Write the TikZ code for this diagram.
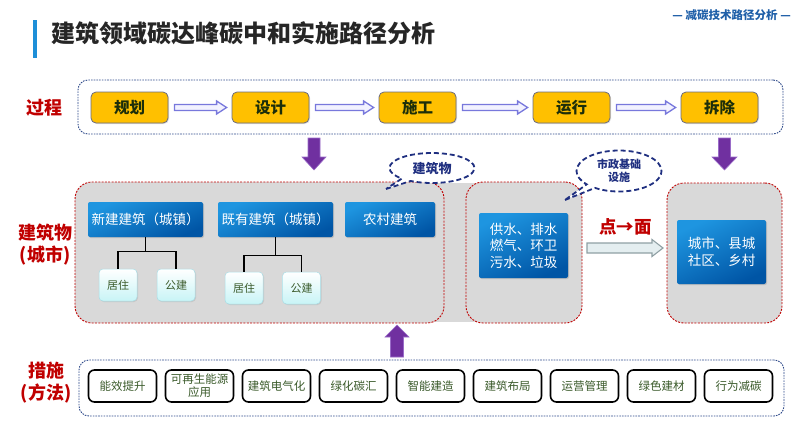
\documentclass[tikz,border=0pt]{standalone}
\usepackage{fontspec}
\setmainfont{Noto Sans CJK SC}
\usetikzlibrary{shapes.callouts,shadows,calc,arrows.meta}
\definecolor{redtxt}{HTML}{C00000}
\definecolor{navyd}{HTML}{2E4A8A}
\definecolor{callnavy}{HTML}{1F2F80}
\definecolor{gold}{HTML}{FFC000}
\definecolor{goldline}{HTML}{6B6B80}
\definecolor{darkolive}{HTML}{1C2E0A}
\definecolor{grayfill}{HTML}{D9D9D9}
\definecolor{blueA}{HTML}{1E95E0}
\definecolor{blueB}{HTML}{0055A5}
\definecolor{lightcy}{HTML}{C8F4F6}
\definecolor{lightcyline}{HTML}{A8DDE6}
\definecolor{greentxt}{HTML}{3A5A2A}
\definecolor{purp}{HTML}{7030A0}
\definecolor{purpline}{HTML}{9A6CC8}
\definecolor{lav}{HTML}{7878DC}
\definecolor{lavfill}{HTML}{F2F2FF}
\definecolor{hdrblue}{HTML}{1F5FA8}
\definecolor{barblue}{HTML}{1E8FD8}
\definecolor{arrgray}{HTML}{8FA0A4}
\definecolor{arrfill}{HTML}{E4EEF0}
\tikzset{
  proclabel/.style={text=redtxt, font=\fontsize{18}{22}\selectfont\bfseries, align=center, inner sep=0pt},
  procbox/.style={draw=navyd, line width=0.9pt, dash pattern=on 1.6pt off 1.1pt, rounded corners=10pt, inner sep=0pt},
  stagebox/.style={fill=gold, draw=goldline, line width=0.8pt, rounded corners=5pt, minimum width=77pt, minimum height=31pt, inner sep=0pt, text=darkolive, font=\fontsize{15.5}{18}\selectfont\bfseries, drop shadow={opacity=0.25, shadow xshift=1pt, shadow yshift=-1pt}},
  hollowarr/.style={fill=lavfill, draw=lav, line width=1.3pt, line join=miter},
  graybox/.style={fill=grayfill, draw=redtxt, line width=0.9pt, dash pattern=on 2pt off 1.3pt, rounded corners=17pt, inner sep=0pt},
  bluebox/.style={top color=blueA, bottom color=blueB, shading angle=25, draw=none, rounded corners=2pt, inner sep=0pt, text=white, align=center, font=\fontsize{13.5}{16.5}\selectfont, drop shadow={opacity=0.3, shadow xshift=1pt, shadow yshift=-1pt}},
  leafbox/.style={top color=white, bottom color=lightcy, draw=lightcyline, line width=0.5pt, rounded corners=4pt, minimum width=38pt, minimum height=32pt, inner sep=0pt, text=greentxt, font=\fontsize{11}{13}\selectfont, drop shadow={opacity=0.2, shadow xshift=1pt, shadow yshift=-1pt}},
  tree/.style={draw=black, line width=1.3pt},
  bubble/.style={ellipse callout, draw=callnavy, fill=white, line width=1.8pt, dash pattern=on 5pt off 3pt, inner sep=0pt, text=callnavy, align=center},
  measbox/.style={fill=white, draw=black, line width=1.6pt, rounded corners=6pt, minimum width=68pt, minimum height=32pt, inner sep=0pt, text=greentxt, align=center, font=\fontsize{11.5}{13}\selectfont},
  blockarrow/.style={fill=purp, draw=purpline, line width=0.6pt},
}
\begin{document}
\begin{tikzpicture}[x=1pt,y=-1pt]
\useasboundingbox (0,0) rectangle (800,434);
% header
\fill[barblue] (32.5,20) rectangle (36.5,58);
\node[anchor=west, inner sep=0pt, font=\fontsize{24}{26}\selectfont\bfseries, text=black!85] (title) at (51,33) {建筑领域碳达峰碳中和实施路径分析};
\node[anchor=east, inner sep=0pt, font=\fontsize{11.5}{13}\selectfont\bfseries, text=hdrblue] (hdr) at (791,15) {— 减碳技术路径分析 —};

% process row
\node[procbox, minimum width=705pt, minimum height=54pt] (proc) at (430.5,107) {};
\node[proclabel] (lproc) at (45,108) {过程};
\node[stagebox] (s1) at (129.5,107.5) {规划};
\node[stagebox] (s2) at (270.5,107.5) {设计};
\node[stagebox] (s3) at (417.5,107.5) {施工};
\node[stagebox] (s4) at (571.5,107.5) {运行};
\node[stagebox] (s5) at (719.5,107.5) {拆除};
\foreach \a/\b in {s1/s2,s2/s3,s3/s4,s4/s5}{
  \draw[hollowarr] ($(\a.east)+(6,-3)$) -- ($(\b.west)+(-15,-3)$) -- ($(\b.west)+(-15,-6.5)$)
    -- ($(\b.west)+(-5,0)$) -- ($(\b.west)+(-15,6.5)$) -- ($(\b.west)+(-15,3)$)
    -- ($(\a.east)+(6,3)$) -- cycle;
}

% building row
\fill[grayfill] (430,183) rectangle (478,322);
\node[graybox, minimum width=369pt, minimum height=141pt] (bld) at (259.5,252.5) {};
\node[graybox, minimum width=116pt, minimum height=141pt] (inf) at (524,252.5) {};
\node[graybox, minimum width=115pt, minimum height=140pt] (area) at (724.5,253) {};
\node[proclabel] (lbld) at (45,244.5) {建筑物\\(城市)};

\node[bluebox, minimum width=115pt, minimum height=35pt] (xin) at (145.5,219.5) {新建建筑（城镇）};
\node[bluebox, minimum width=115pt, minimum height=35pt] (jiy) at (275.5,219.5) {既有建筑（城镇）};
\node[bluebox, minimum width=90pt, minimum height=35pt] (nc) at (390,219.5) {农村建筑};
\node[bluebox, minimum width=89pt, minimum height=65pt] (water) at (523.5,245.5) {供水、排水\\燃气、环卫\\污水、垃圾};
\node[bluebox, minimum width=89pt, minimum height=64pt] (city) at (721.5,252) {城市、县城\\社区、乡村};

\node[leafbox] (jz1) at (118,285) {居住};
\node[leafbox] (gj1) at (176,285) {公建};
\node[leafbox] (jz2) at (244,288) {居住};
\node[leafbox] (gj2) at (301.5,288) {公建};
\draw[tree] (xin.south) -- ++(0,14) coordinate (b1);
\draw[tree] (jz1.north) |- (b1) -| (gj1.north);
\draw[tree] (jiy.south) -- ++(0,18) coordinate (b2);
\draw[tree] (jz2.north) |- (b2) -| (gj2.north);

\node[bubble, minimum width=85pt, minimum height=30pt, callout absolute pointer={(386,189)}, font=\fontsize{13}{15}\selectfont\bfseries] (cb1) at (432,168) {建筑物};
\node[bubble, minimum width=85pt, minimum height=41pt, callout absolute pointer={(565,200)}, font=\fontsize{11}{13}\selectfont\bfseries] (cb2) at (619,171) {市政基础\\设施};

\node[text=redtxt, inner sep=0pt, font=\fontsize{17.5}{20}\selectfont\bfseries] (pm) at (625.5,227) {点→面};
\draw[fill=arrfill, draw=arrgray, line width=1.1pt, line join=miter]
  (587,243) -- (652,243) -- (652,239.5) -- (663,248) -- (652,256.5) -- (652,253) -- (587,253) -- cycle;

% purple arrows
\draw[blockarrow] (308,138) -- (320,138) -- (320,157) -- (326,157) -- (314,170) -- (302,157) -- (308,157) -- cycle;
\draw[blockarrow] (718.5,138) -- (730.5,138) -- (730.5,157) -- (737,157) -- (724.5,170) -- (712,157) -- (718.5,157) -- cycle;
\draw[blockarrow] (390.5,357) -- (403.5,357) -- (403.5,337) -- (409,337) -- (397,325) -- (385,337) -- (390.5,337) -- cycle;

% measures row
\node[procbox, minimum width=705pt, minimum height=56pt] (meas) at (431.5,388) {};
\node[proclabel] (lmeas) at (46,383) {措施\\(方法)};
\node[measbox] (m1) at (122.5,386) {能效提升};
\node[measbox] (m2) at (199.5,386) {可再生能源\\应用};
\node[measbox] (m3) at (276.5,386) {建筑电气化};
\node[measbox] (m4) at (353.5,386) {绿化碳汇};
\node[measbox] (m5) at (430.5,386) {智能建造};
\node[measbox] (m6) at (507.5,386) {建筑布局};
\node[measbox] (m7) at (584.5,386) {运营管理};
\node[measbox] (m8) at (661.5,386) {绿色建材};
\node[measbox] (m9) at (738.5,386) {行为减碳};
\end{tikzpicture}
\end{document}
